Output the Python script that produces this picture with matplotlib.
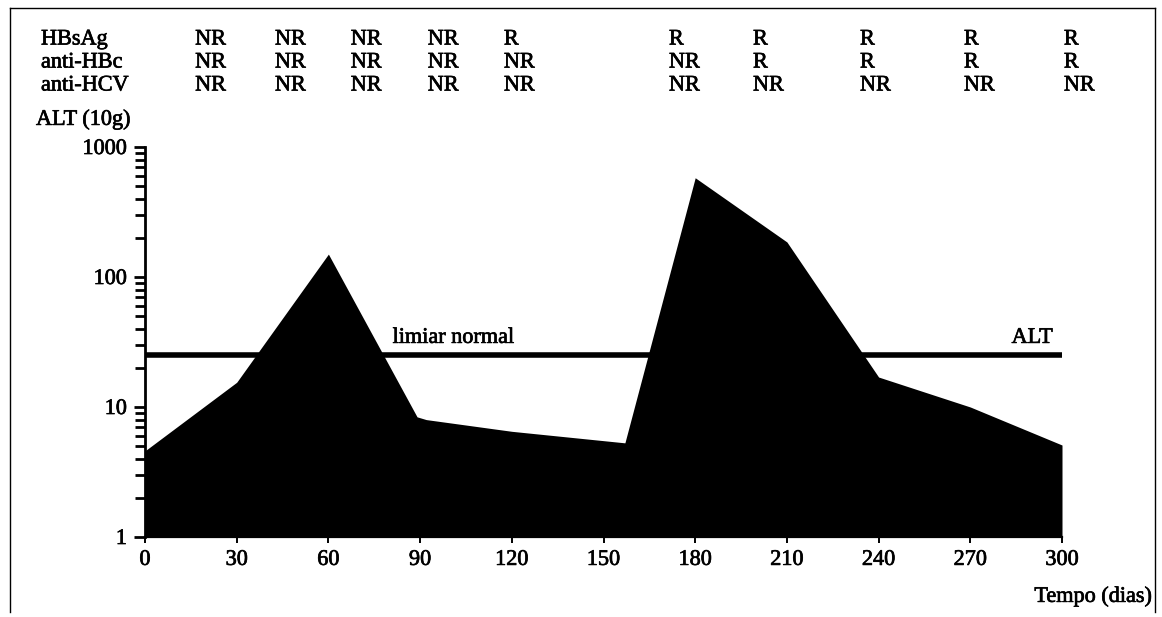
import matplotlib
matplotlib.use('Agg')
import matplotlib.pyplot as plt
import matplotlib.patheffects as pe
from matplotlib.lines import Line2D
from matplotlib.ticker import FixedLocator, NullFormatter, FixedFormatter

# ---------------- data ----------------
days = [0, 30, 60, 89, 92, 120, 157, 180, 210, 240, 270, 300]
alt = [4.6, 15.5, 150, 8.4, 8.0, 6.5, 5.3, 580, 186, 17, 10, 5.1]
threshold = 25

xticks = [0, 30, 60, 90, 120, 150, 180, 210, 240, 270, 300]
yticks = [1, 10, 100, 1000]
ytick_labels = ['1', '10', '100', '1000']

row_labels = ['HBsAg', 'anti-HBc', 'anti-HCV']
hbsag_status = ['NR', 'NR', 'NR', 'NR', 'R', 'R', 'R', 'R', 'R', 'R']
antihbc_status = ['NR', 'NR', 'NR', 'NR', 'NR', 'NR', 'R', 'R', 'R', 'R']
antihcv_status = ['NR', 'NR', 'NR', 'NR', 'NR', 'NR', 'NR', 'NR', 'NR', 'NR']

# layout: column positions of the serology table (in days)
col_days = [16.4, 42.5, 67.3, 92.5, 117.4, 171.4, 198.9, 233.9, 267.9, 300.6]

W, H = 1162, 617
FONT = 'Liberation Serif'
FS = 16
EFF = [pe.withStroke(linewidth=0.5, foreground='black')]

fig = plt.figure(figsize=(W / 100, H / 100), dpi=100)
ax = fig.add_axes([145 / W, 1 - 537 / H, (1062 - 145) / W, (537 - 147) / H])

ax.set_yscale('log')
ax.set_xlim(0, 300)
ax.set_ylim(1, 1000)

ax.fill_between(days, alt, 1, color='black', linewidth=0)
ax.plot([0, 300], [threshold, threshold], color='black', lw=4.0,
        solid_capstyle='butt')

for s in ['top', 'right']:
    ax.spines[s].set_visible(False)
ax.spines['left'].set_linewidth(2.0)
ax.spines['bottom'].set_linewidth(1.6)

ax.xaxis.set_major_locator(FixedLocator(xticks))
ax.set_xticklabels([str(t) for t in xticks], fontfamily=FONT, fontsize=FS)
ax.yaxis.set_major_locator(FixedLocator(yticks))
ax.yaxis.set_major_formatter(FixedFormatter(ytick_labels))
minor = [m * 10 ** e for e in range(0, 3) for m in range(2, 10)]
ax.yaxis.set_minor_locator(FixedLocator(minor))
ax.yaxis.set_minor_formatter(NullFormatter())
for lab in ax.get_yticklabels() + ax.get_xticklabels():
    lab.set_fontfamily(FONT)
    lab.set_fontsize(FS)
    lab.set_path_effects(EFF)

ax.tick_params(axis='y', which='major', direction='out', length=8, width=2.0,
               pad=5)
ax.tick_params(axis='y', which='minor', direction='out', length=7, width=2.0)
ax.tick_params(axis='x', which='major', direction='out', length=4, width=1.4,
               pad=6)

# threshold labels
ax.text(81, 28.5, 'limiar normal', fontfamily=FONT, fontsize=FS,
        ha='left', va='bottom', path_effects=EFF)
ax.text(297, 28.5, 'ALT', fontfamily=FONT, fontsize=FS,
        ha='right', va='bottom', path_effects=EFF)


def fx(px):
    return px / W


def fy(py):
    return 1 - py / H


# serology table
row_y = [40, 63, 86]
blend = matplotlib.transforms.blended_transform_factory(ax.transData,
                                                        fig.transFigure)
for label, statuses, y in zip(row_labels,
                              [hbsag_status, antihbc_status, antihcv_status],
                              row_y):
    fig.text(fx(41), fy(y), label, fontfamily=FONT, fontsize=FS,
             ha='left', va='center', path_effects=EFF)
    for d, st in zip(col_days, statuses):
        fig.text(d, fy(y), st, fontfamily=FONT, fontsize=FS,
                 ha='left', va='center', transform=blend, path_effects=EFF)

fig.text(fx(36), fy(120), 'ALT (10g)', fontfamily=FONT, fontsize=FS,
         ha='left', va='center', path_effects=EFF)
fig.text(fx(1152), fy(597), 'Tempo (dias)', fontfamily=FONT, fontsize=FS,
         ha='right', va='center', path_effects=EFF)

# frame
for xs, ys in [([10, 10], [8, 612]), ([10, 1155], [8, 8]),
               ([1155, 1155], [8, 612])]:
    fig.add_artist(Line2D([fx(v) for v in xs], [fy(v) for v in ys],
                          color='black', lw=1.0))

fig.savefig('out.png', dpi=100)
